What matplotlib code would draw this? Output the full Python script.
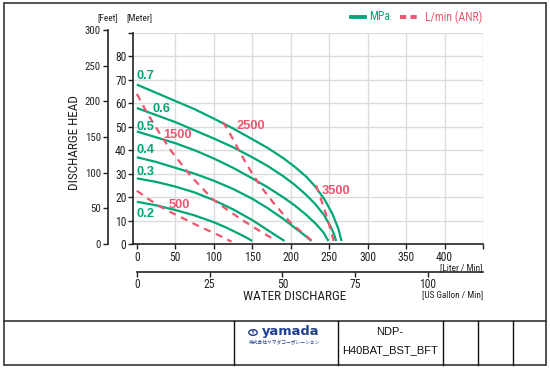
import matplotlib
matplotlib.use("Agg")
import matplotlib.pyplot as plt
import matplotlib.font_manager as fm
from matplotlib.patches import Rectangle, Circle
from matplotlib.lines import Line2D

W, H = 550, 369
GREEN = "#00a676"
RED = "#ec5670"
GRID = "#dcdcdc"
INK = "#222222"
SANS = ["Liberation Sans", "DejaVu Sans"]

# ---------------- data ----------------
mpa_labels = ["0.7", "0.6", "0.5", "0.4", "0.3", "0.2"]
mpa_L = [
    [0, 25, 50, 75, 100, 125, 150, 170, 190, 205, 220, 232, 244, 254, 262, 266],
    [0, 25, 50, 75, 100, 125, 150, 170, 190, 205, 220, 232, 243, 251, 256, 259],
    [0, 25, 50, 75, 100, 125, 150, 170, 190, 205, 220, 232, 242, 249],
    [0, 25, 50, 75, 100, 125, 150, 170, 190, 205, 217, 227],
    [0, 25, 50, 75, 100, 125, 150, 165, 180, 192],
    [0, 25, 50, 75, 100, 115, 130, 141, 150],
]
mpa_m = [
    [68, 64.5, 61, 57.5, 53.5, 49.3, 44.7, 41, 36.7, 33, 28.8, 24.5, 19, 13, 6.5, 1.3],
    [58, 55, 52, 48.5, 45, 41.3, 37, 33.3, 29, 25.3, 21, 17, 12.5, 8, 4.5, 1.3],
    [48, 45.5, 43, 40, 36.5, 32.5, 28, 24.2, 20, 16.5, 12.5, 8.8, 5.2, 1.3],
    [37, 35, 32.5, 30, 27, 23.5, 19.3, 15.3, 10.8, 7, 4, 1.3],
    [28, 26.5, 24.5, 22, 18.7, 14.8, 10.2, 7, 3.8, 1.3],
    [18, 16.5, 14.5, 12.2, 9.3, 7.2, 4.8, 3, 1.3],
]
air_labels = ["500", "1500", "2500", "3500"]
air_L = [
    [0, 15, 30, 45, 60, 75, 90, 110, 123],
    [0, 15, 30, 45, 70, 99, 120, 140, 160, 181],
    [112, 122, 131, 141, 151, 164, 177, 199, 227],
    [233, 239, 244, 249, 253, 256],
]
air_m = [
    [22.7, 19.2, 16, 13.4, 11, 8.5, 6.2, 3.2, 1],
    [64, 55, 47, 39.5, 29, 19, 14, 9.6, 5.5, 1.4],
    [52, 46.5, 41, 35, 29.5, 23.3, 17.8, 9.4, 1.5],
    [25, 19.5, 14.5, 9.5, 4.7, 1.3],
]
x_ticks = [0, 50, 100, 150, 200, 250, 300, 350, 400, 450]
m_ticks = [0, 10, 20, 30, 40, 50, 60, 70, 80, 90]
ft_ticks = [0, 50, 100, 150, 200, 250, 300]
gal_ticks = [0, 25, 50, 75, 100]
L_PER_GAL = 3.785

# label positions (data coords: L/min, meter)
mpa_label_pos = [(0, 71.5), (20, 57.5), (-1, 50), (0, 40), (0, 30.5), (0, 13)]
air_label_pos = [(42, 16.5), (34, 46.5), (130, 50.5), (240, 22.7)]

# ---------------- fonts ----------------
names = {f.name for f in fm.fontManager.ttflist}
pairs = {(f.name, str(f.stretch)) for f in fm.fontManager.ttflist}
NF, NS = "Liberation Sans", "normal"
found = False
for n in ["Liberation Sans Narrow", "Arial Narrow", "Roboto Condensed", "Open Sans Condensed"]:
    if n in names:
        NF, NS = n, "normal"
        found = True
        break
if not found:
    for n in ["Roboto", "Noto Sans", "Open Sans", "DejaVu Sans"]:
        hit = [s for (nm, s) in pairs if nm == n and "condensed" in s]
        if hit:
            NF, NS = n, hit[0]
            break
NARROW = [NF, "DejaVu Sans"]


def fx(px):
    return px / W


def fy(py):
    return 1 - py / H


fig = plt.figure(figsize=(W / 100, H / 100), dpi=100)
renderer = fig.canvas.get_renderer()


def fit(text, target, family=None, stretch=None, weight="normal"):
    family = family or NARROW
    stretch = stretch or NS
    t = fig.text(0, 0, text, fontsize=10, family=family, fontstretch=stretch, fontweight=weight)
    w = t.get_window_extent(renderer).width
    t.remove()
    return 10 * target / w


S_TICK = fit("150", 17.0)
S_FT = fit("300", 16.0)
S_AX = fit("WATER DISCHARGE", 104)
S_SMALL = fit("[Liter / Min]", 42)
S_LEG = fit("L/min (ANR)", 57.5)
S_NUM = fit("2500", 28.7, family=SANS, stretch="normal", weight="bold")


def style_ticks(labels, size):
    for t in labels:
        t.set_family(NARROW)
        t.set_stretch(NS)
        t.set_size(size)
        t.set_color(INK)


# ---------------- main axes ----------------
ax = fig.add_axes([fx(133), fy(244), (483 - 133) / W, (244 - 33) / H])
ax.set_xlim(-5, 450)
ax.set_ylim(0, 90)
ax.set_xticks(x_ticks)
ax.set_xticklabels([str(v) for v in x_ticks[:-1]] + [""])
ax.set_yticks(m_ticks)
ax.set_yticklabels([str(v) for v in m_ticks[:-1]] + [""])
for s in ["top", "right"]:
    ax.spines[s].set_visible(False)
for s in ["left", "bottom"]:
    ax.spines[s].set_linewidth(1.2)
    ax.spines[s].set_color(INK)
ax.tick_params(axis="both", length=3.5, width=1, color=INK, pad=1.2)
style_ticks(ax.get_xticklabels() + ax.get_yticklabels(), S_TICK)
for v in x_ticks[1:]:
    ax.axvline(v, color=GRID, lw=1, zorder=0)
for v in m_ticks[1:]:
    ax.axhline(v, color=GRID, lw=1, zorder=0)

for L, m in zip(mpa_L, mpa_m):
    ax.plot(L, m, color=GREEN, lw=1.6, solid_capstyle="butt", solid_joinstyle="round", zorder=3)
for L, m in zip(air_L, air_m):
    ax.plot(L, m, color=RED, lw=1.6, linestyle=(0, (3.2, 2.6)), zorder=4)

for lab, (x, y) in zip(mpa_labels, mpa_label_pos):
    ax.text(x, y, lab, color=GREEN, fontsize=S_NUM, fontweight="bold",
            family=SANS, ha="left", va="center", zorder=5)
for lab, (x, y) in zip(air_labels, air_label_pos):
    ax.text(x, y, lab, color=RED, fontsize=S_NUM, fontweight="bold",
            family=SANS, ha="left", va="center", zorder=5)

# ---------------- feet axis ----------------
axf = fig.add_axes([fx(108), fy(244), 0.0005, (244 - 30) / H])
axf.set_ylim(0, 300)
axf.set_yticks(ft_ticks)
axf.set_xticks([])
for s in ["top", "right", "bottom"]:
    axf.spines[s].set_visible(False)
axf.spines["left"].set_linewidth(1.2)
axf.spines["left"].set_color(INK)
axf.patch.set_visible(False)
axf.tick_params(axis="y", length=3.5, width=1, color=INK, pad=1.5)
style_ticks(axf.get_yticklabels(), S_FT)

# ---------------- gallon axis ----------------
axg = fig.add_axes([fx(133), fy(272), (483 - 133) / W, 0.0005])
axg.set_xlim(-5 / L_PER_GAL, 450 / L_PER_GAL)
axg.set_xticks(gal_ticks)
axg.set_yticks([])
for s in ["top", "right", "left"]:
    axg.spines[s].set_visible(False)
axg.spines["bottom"].set_bounds(0, 450 / L_PER_GAL)
axg.spines["bottom"].set_linewidth(1.2)
axg.spines["bottom"].set_color(INK)
axg.patch.set_visible(False)
axg.tick_params(axis="x", length=3.5, width=1, color=INK, pad=1.0)
style_ticks(axg.get_xticklabels(), S_TICK)

# ---------------- texts ----------------
tf = fig.transFigure
kw = dict(family=NARROW, fontstretch=NS, color=INK, va="center")
fig.text(fx(108), fy(18), "[Feet]", fontsize=S_SMALL, ha="center", **kw)
fig.text(fx(139), fy(18), "[Meter]", fontsize=S_SMALL, ha="center", **kw)
fig.text(fx(483), fy(267.5), "[Liter / Min]", fontsize=S_SMALL, ha="right", **kw)
fig.text(fx(483), fy(295), "[US Gallon / Min]", fontsize=S_SMALL, ha="right", **kw)
fig.text(fx(295), fy(297), "WATER DISCHARGE", fontsize=S_AX, ha="center", **kw)
fig.text(fx(74), fy(142), "DISCHARGE HEAD", fontsize=S_AX, ha="center", rotation=90, **kw)

# legend
fig.add_artist(Line2D([fx(351), fx(365)], [fy(17), fy(17)], color=GREEN, lw=2.8, transform=tf))
fig.text(fx(369), fy(17), "MPa", fontsize=S_LEG, family=NARROW, fontstretch=NS, color=GREEN,
         ha="left", va="center")
fig.add_artist(Line2D([fx(400), fx(417)], [fy(17), fy(17)], color=RED, lw=2.8,
                      linestyle=(0, (1.6, 1.1)), transform=tf))
fig.text(fx(425), fy(17), "L/min (ANR)", fontsize=S_LEG, family=NARROW, fontstretch=NS, color=RED,
         ha="left", va="center")

# ---------------- frame and title block ----------------
fig.add_artist(Rectangle((fx(4), fy(365)), (546 - 4) / W, (365 - 3) / H, transform=tf,
                         fill=False, edgecolor="#444444", lw=1.3))
fig.add_artist(Line2D([fx(4), fx(546)], [fy(320.5), fy(320.5)], color="#333333", lw=1.2, transform=tf))
for px in [234, 338, 443, 478, 513]:
    fig.add_artist(Line2D([fx(px), fx(px)], [fy(320.5), fy(365)], color="#111111", lw=1.0, transform=tf))

NAVY = "#1f3e8e"
fig.add_artist(Circle((fx(253), fy(332.5)), 4.2 / W, transform=tf, fill=False, edgecolor=NAVY, lw=1.0))
fig.text(fx(253), fy(332.5), "Y", fontsize=4.5, fontweight="bold", color=NAVY, ha="center", va="center",
         family=SANS)
fig.text(fx(262), fy(332), "yamada", fontsize=9.4, fontweight="bold", color=NAVY, ha="left", va="center",
         family=["DejaVu Sans"])
fig.text(fx(284), fy(342), "株式会社ヤマダコーポレーション", fontsize=3.4, color=NAVY, ha="center", va="center",
         family=["Noto Sans CJK JP", "DejaVu Sans"])
fig.text(fx(390), fy(332), "NDP-", fontsize=8, family=SANS, ha="center", va="center", color="#111111")
fig.text(fx(390), fy(350), "H40BAT_BST_BFT", fontsize=8, family=SANS, ha="center", va="center", color="#111111")

fig.savefig("out.png", dpi=100)
